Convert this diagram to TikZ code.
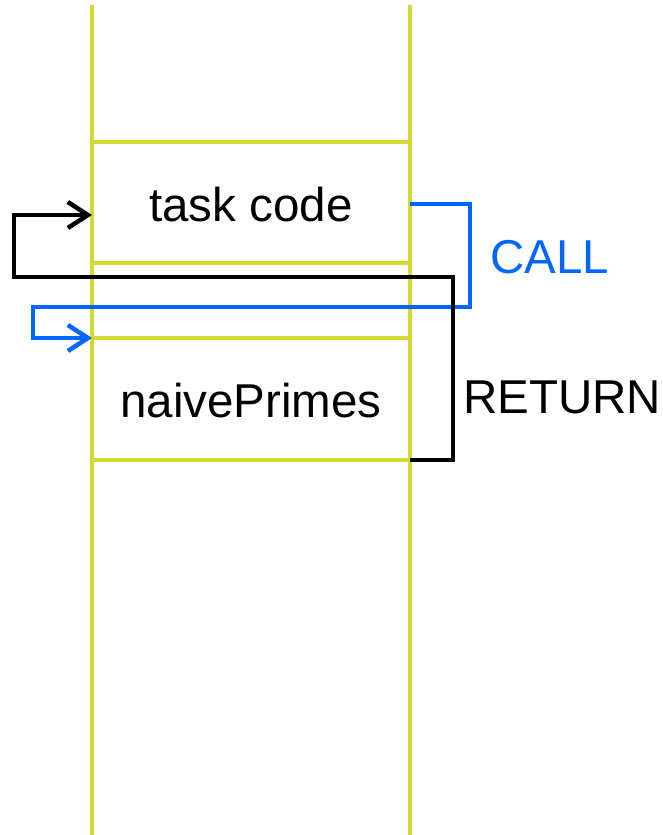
\documentclass[tikz,border=0pt]{standalone}
\usepackage{fontspec}
\setmainfont{Liberation Sans}
\usetikzlibrary{arrows.meta}
\definecolor{stackyellow}{RGB}{212,217,50}
\definecolor{callblue}{RGB}{0,102,255}
\tikzset{
  stackline/.style={draw=stackyellow,line width=4.5pt},
  conn/.style={line width=4.5pt,line join=miter,-{Straight Barb[length=20pt,width=26pt,line width=4.5pt]}},
  lbl/.style={inner sep=0pt,font=\fontsize{47.5}{56}\selectfont},
}
\begin{document}
\begin{tikzpicture}[x=1pt,y=-1pt]
\useasboundingbox (0,0) rectangle (663,835);
% stack walls
\draw[stackline] (92,5) -- (92,835);
\draw[stackline] (410,5) -- (410,835);
\draw[stackline] (92,142) -- (410,142);
\draw[stackline] (92,263) -- (410,263);
\draw[stackline] (92,338) -- (410,338);
\draw[stackline] (92,460) -- (410,460);
% labels
\node[lbl] (task) at (251,205) {task code};
\node[lbl] (naive) at (251,401) {naivePrimes};
\node[lbl,text=callblue] (call) at (550,257) {CALL};
\node[lbl] (ret) at (562,397) {RETURN};
% connector ends
\coordinate (callstart) at (410,204);
\coordinate (callend) at (92,338);
\coordinate (retstart) at (410,460);
\coordinate (retend) at (92,215);
% call
\draw[conn,callblue] (callstart) -- (470,204) -- (470,307) -- (33,307) -- (33,338) -- (callend);
% return
\draw[conn,black] (retstart) -- (453,460) -- (453,277) -- (14,277) -- (14,215) -- (retend);
\end{tikzpicture}
\end{document}
